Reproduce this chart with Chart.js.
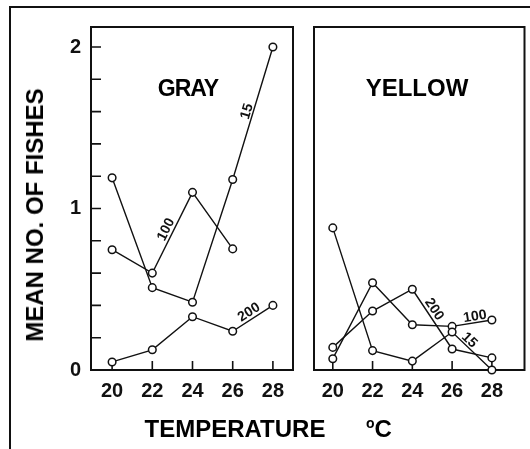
<!DOCTYPE html>
<html>
<head>
<meta charset="utf-8">
<script src="https://cdn.jsdelivr.net/npm/chart.js@4.4.1/dist/chart.umd.min.js"></script>
<style>
  html, body { margin: 0; padding: 0; background: #fff; }
  #fig { position: relative; width: 530px; height: 449px; overflow: hidden; background: #fff;
         font-family: 'Liberation Sans', Arial, sans-serif; font-weight: bold; color: #000; }
  #frame { position: absolute; left: 9px; top: 6px; right: -10px; bottom: -10px;
           border-left: 2px solid #111; border-top: 2px solid #111; }
  canvas { position: absolute; top: 0; }
  .txt { position: absolute; white-space: nowrap; line-height: 1; transform: translate(-50%, -50%); }
</style>
</head>
<body>
<div id="fig">
  <div id="frame"></div>
  <canvas id="gray" width="300" height="449" style="left:0"></canvas>
  <canvas id="yellow" width="230" height="449" style="left:300px"></canvas>
  <div class="txt" style="left:35px; top:215px; font-size:24px; transform: translate(-50%, -50%) rotate(-90deg);">MEAN NO. OF FISHES</div>
  <div class="txt" style="left:188px; top:88px; font-size:23px; letter-spacing:-1px;">GRAY</div>
  <div class="txt" style="left:417px; top:88px; font-size:24px;">YELLOW</div>
  <div class="txt" style="left:235px; top:429px; font-size:24px;">TEMPERATURE</div>
  <div class="txt" style="left:379px; top:428px; font-size:24px;"><span style="font-size:14px; vertical-align: 9px;">o</span>C</div>
</div>
<script>
// Temperatures (°C) at which fishes were counted
const temperatures = [20, 22, 24, 26, 28];

// Mean number of fishes, gray background
const gray15  = [1.19, 0.51, 0.42, 1.18, 2.00];
const gray100 = [0.745, 0.60, 1.10, 0.75];
const gray200 = [0.05, 0.125, 0.33, 0.24, 0.40];

// Mean number of fishes, yellow background
const yellow15  = [0.88, 0.12, 0.055, 0.235, 0.00];
const yellow100 = [0.07, 0.54, 0.28, 0.27, 0.31];
const yellow200 = [0.14, 0.365, 0.50, 0.13, 0.075];

// Labelled values on the count axis, minor ticks every 0.2
const countLabels = [0, 1, 2];
const countStep = 0.2;

const FONT = "'Liberation Sans', Arial, sans-serif";

function points(values) {
  return values.map((v, i) => ({ x: temperatures[i], y: v }));
}

function series(values, label, seg) {
  return {
    data: points(values),
    showLine: true,
    borderColor: '#111',
    borderWidth: 1.4,
    pointRadius: 3.8,
    pointBorderWidth: 1.5,
    pointBackgroundColor: '#fff',
    pointBorderColor: '#111',
    clip: false,
    segLabel: Object.assign({ text: label }, seg)
  };
}

// Panel border plus inward-pointing tick marks
const panelFrame = {
  id: 'panelFrame',
  beforeDatasetsDraw(chart, args, opts) {
    const { ctx, chartArea: a, scales } = chart;
    ctx.save();
    ctx.strokeStyle = '#111';
    ctx.lineWidth = 2;
    ctx.strokeRect(a.left, a.top, a.right - a.left, a.bottom - a.top);
    ctx.lineWidth = 1.6;
    ctx.beginPath();
    scales.x.ticks.forEach(t => {
      const px = scales.x.getPixelForValue(t.value);
      ctx.moveTo(px, a.bottom);
      ctx.lineTo(px, a.bottom - 9);
    });
    if (opts.yTicks) {
      scales.y.ticks.forEach(t => {
        const py = scales.y.getPixelForValue(t.value);
        ctx.moveTo(a.left, py);
        ctx.lineTo(a.left + 10, py);
      });
    }
    ctx.stroke();
    ctx.restore();
  }
};

// Group size written along one segment of each curve
const segmentLabels = {
  id: 'segmentLabels',
  afterDatasetsDraw(chart) {
    const { ctx } = chart;
    chart.data.datasets.forEach((ds, i) => {
      const s = ds.segLabel;
      if (!s) return;
      const pts = chart.getDatasetMeta(i).data;
      const p0 = pts[s.index], p1 = pts[s.index + 1];
      const ang = Math.atan2(p1.y - p0.y, p1.x - p0.x);
      const x = p0.x + (p1.x - p0.x) * s.t + Math.sin(ang) * s.offset;
      const y = p0.y + (p1.y - p0.y) * s.t - Math.cos(ang) * s.offset;
      ctx.save();
      ctx.translate(x, y);
      ctx.rotate(ang);
      ctx.font = 'bold 14px ' + FONT;
      ctx.fillStyle = '#111';
      ctx.textAlign = 'center';
      ctx.textBaseline = 'middle';
      ctx.fillText(s.text, 0, 0);
      ctx.restore();
    });
  }
};

function tempAxis(min, max) {
  return {
    type: 'linear',
    min: min, max: max,
    grid: { display: false, drawTicks: false },
    border: { display: false },
    afterBuildTicks(scale) { scale.ticks = temperatures.map(v => ({ value: v })); },
    afterFit(scale) { scale.height = 79; },
    ticks: {
      autoSkip: false,
      maxRotation: 0,
      padding: 9,
      color: '#111',
      font: { family: FONT, size: 20, weight: 'bold' },
      callback: v => String(v)
    }
  };
}

const countMax = 2.124;

new Chart(document.getElementById('gray'), {
  type: 'scatter',
  data: {
    datasets: [
      series(gray15, '15', { index: 3, t: 0.5, offset: 6 }),
      series(gray100, '100', { index: 1, t: 0.5, offset: 7 }),
      series(gray200, '200', { index: 3, t: 0.5, offset: 7 })
    ]
  },
  options: {
    responsive: false,
    animation: false,
    layout: { padding: { top: 27, right: 7, left: 0, bottom: 0 } },
    plugins: { legend: { display: false }, tooltip: { enabled: false }, panelFrame: { yTicks: true } },
    scales: {
      x: tempAxis(18.95, 29.0),
      y: {
        type: 'linear',
        min: 0, max: countMax,
        grid: { display: false, drawTicks: false },
        border: { display: false },
        afterBuildTicks(scale) {
          const ticks = [];
          for (let k = 0; k <= 10; k++) ticks.push({ value: +(k * countStep).toFixed(1) });
          scale.ticks = ticks;
        },
        afterFit(scale) { scale.width = 91; },
        ticks: {
          autoSkip: false,
          padding: 10,
          color: '#111',
          font: { family: FONT, size: 20, weight: 'bold' },
          callback: v => countLabels.includes(v) ? String(v) : ''
        }
      }
    }
  },
  plugins: [panelFrame, segmentLabels]
});

new Chart(document.getElementById('yellow'), {
  type: 'scatter',
  data: {
    datasets: [
      series(yellow15, '15', { index: 3, t: 0.33, offset: 6 }),
      series(yellow100, '100', { index: 3, t: 0.6, offset: 6 }),
      series(yellow200, '200', { index: 2, t: 0.4, offset: 7 })
    ]
  },
  options: {
    responsive: false,
    animation: false,
    layout: { padding: { top: 27, right: 3, left: 14, bottom: 0 } },
    plugins: { legend: { display: false }, tooltip: { enabled: false }, panelFrame: { yTicks: false } },
    scales: {
      x: tempAxis(19.055, 29.64),
      y: { type: 'linear', display: false, min: 0, max: countMax }
    }
  },
  plugins: [panelFrame, segmentLabels]
});
</script>
</body>
</html>
